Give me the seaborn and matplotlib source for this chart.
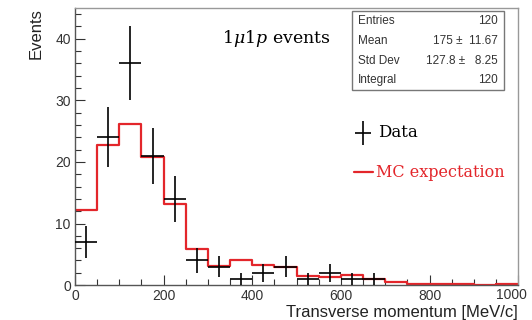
import numpy as np
import pandas as pd
import matplotlib
matplotlib.use("Agg")
import matplotlib.pyplot as plt
import matplotlib.transforms as mtrans
import seaborn as sns
from matplotlib.ticker import MultipleLocator, FuncFormatter

# ---- data ----
bin_edges = list(range(0, 1001, 50))
bin_centers = [25 + 50 * i for i in range(20)]
mc_values = [12.2, 22.7, 26.1, 20.8, 13.2, 5.8, 3.1, 4.0, 3.3, 3.0,
             1.5, 1.3, 1.7, 1.0, 0.5, 0.2, 0.2, 0.2, 0.0, 0.2]
data_centers = [25, 75, 125, 175, 225, 275, 325, 375, 425, 475, 525, 575, 625, 675]
data_values = [7, 24, 36, 21, 14, 4, 3, 1, 2, 3, 1, 2, 1, 1]
stats_labels = ["Entries", "Mean", "Std Dev", "Integral"]
stats_values = ["120", "175 \u00b1  11.67", "127.8 \u00b1   8.25", "120"]

sns.set_theme(style="ticks")
plt.rcParams['font.family'] = ['Liberation Sans', 'DejaVu Sans']

fig = plt.figure(figsize=(5.32, 3.2), dpi=100)
ax = fig.add_axes([0.141, 0.109, 0.833, 0.866])

mc_df = pd.DataFrame({"x": bin_centers, "w": mc_values})
sns.histplot(data=mc_df, x="x", weights="w", bins=bin_edges, element="step",
             fill=False, color="#e3262b", linewidth=1.6, ax=ax)

yerr = np.sqrt(np.array(data_values, dtype=float))
ax.errorbar(data_centers, data_values, xerr=25, yerr=yerr, fmt="none",
            ecolor="black", elinewidth=1.2, capsize=0, zorder=5)

ax.set_xlim(0, 1000)
ax.set_ylim(0, 45)
ax.xaxis.set_major_locator(MultipleLocator(200))
ax.xaxis.set_minor_locator(MultipleLocator(50))
ax.xaxis.set_major_formatter(FuncFormatter(lambda v, p: "" if v >= 1000 else f"{v:.0f}"))
ax.yaxis.set_major_locator(MultipleLocator(10))
ax.yaxis.set_minor_locator(MultipleLocator(2))
ax.tick_params(which="major", direction="in", length=7, width=0.8, color="#333333",
               labelsize=10, labelcolor="#333333", pad=3)
ax.tick_params(which="minor", direction="in", length=4, width=0.8, color="#333333")
for s in ax.spines.values():
    s.set_color("#555555")
    s.set_linewidth(1.0)
ax.spines["right"].set_color("#999999")
ax.spines["top"].set_color("#999999")

# last x tick label, kept inside the figure
lbl_tr = ax.get_xaxis_transform() + mtrans.ScaledTranslation(0.09, -0.03, fig.dpi_scale_trans)
ax.text(1000, 0, "1000", transform=lbl_tr, fontsize=10, color="#333333",
        ha="right", va="top")

ax.set_xlabel("Transverse momentum [MeV/c]", fontsize=12, color="#222222",
              loc="right", labelpad=1)
ax.set_ylabel("Events", fontsize=12, color="#222222", loc="top", labelpad=8)

ax.text(0.455, 0.89, r"$1\mu1p$ events", transform=ax.transAxes, fontsize=12.5,
        family="DejaVu Serif", math_fontfamily="dejavuserif", color="black",
        ha="center", va="center")

# stats box
bx0, bx1, by0, by1 = 0.625, 0.968, 0.703, 0.988
ax.add_patch(plt.Rectangle((bx0, by0), bx1 - bx0, by1 - by0, transform=ax.transAxes,
                           fill=True, facecolor="white", edgecolor="#777777",
                           linewidth=1.0, zorder=6))
for i, (lab, val) in enumerate(zip(stats_labels, stats_values)):
    yy = by1 - (i + 0.5) * (by1 - by0) / 4
    ax.text(bx0 + 0.013, yy, lab, transform=ax.transAxes, fontsize=8.5,
            ha="left", va="center", color="#333333", zorder=7)
    ax.text(bx1 - 0.013, yy, val, transform=ax.transAxes, fontsize=8.5,
            ha="right", va="center", color="#333333", zorder=7)

# legend entries
ax.errorbar([0.650], [0.549], xerr=[0.018], yerr=[0.043], transform=ax.transAxes,
            fmt="none", ecolor="black", elinewidth=1.2, zorder=7)
ax.text(0.684, 0.549, "Data", transform=ax.transAxes, fontsize=12,
        family="DejaVu Serif", ha="left", va="center", color="black")
ax.plot([0.630, 0.673], [0.408, 0.408], transform=ax.transAxes,
        color="#e3262b", linewidth=1.6)
ax.text(0.680, 0.408, "MC expectation", transform=ax.transAxes, fontsize=11.5,
        family="DejaVu Serif", ha="left", va="center", color="#e3262b")

fig.savefig("out.png", dpi=100)
